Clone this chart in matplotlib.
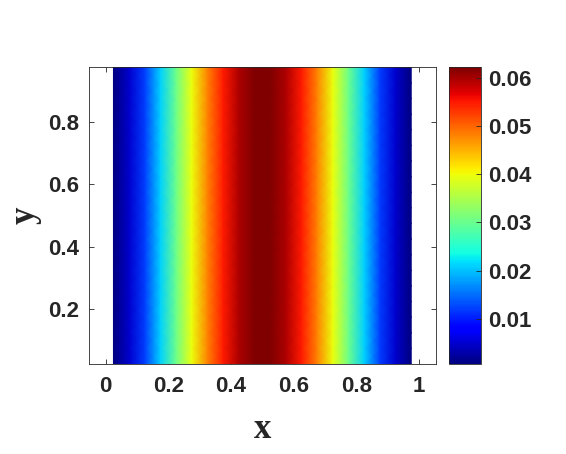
import numpy as np
import matplotlib
matplotlib.use("Agg")
import matplotlib.pyplot as plt

# grid nodes (cell centres)
x_nodes = [0.025, 0.075, 0.125, 0.175, 0.225, 0.275, 0.325, 0.375, 0.425, 0.475,
           0.525, 0.575, 0.625, 0.675, 0.725, 0.775, 0.825, 0.875, 0.925, 0.975]
y_nodes = [0.025, 0.075, 0.125, 0.175, 0.225, 0.275, 0.325, 0.375, 0.425, 0.475,
           0.525, 0.575, 0.625, 0.675, 0.725, 0.775, 0.825, 0.875, 0.925, 0.975]
# field value along x (same for every y)
u_profile = [0.00059, 0.00481, 0.01196, 0.02084, 0.03041, 0.03975, 0.04813, 0.05493,
             0.05972, 0.06219, 0.06219, 0.05972, 0.05493, 0.04813, 0.03975, 0.03041,
             0.02084, 0.01196, 0.00481, 0.00059]

x_ticks = [0, 0.2, 0.4, 0.6, 0.8, 1]
y_ticks = [0.2, 0.4, 0.6, 0.8]
cb_ticks = [0.01, 0.02, 0.03, 0.04, 0.05, 0.06]

X, Y = np.meshgrid(x_nodes, y_nodes)
Z = np.tile(np.array(u_profile), (len(y_nodes), 1))

W, H = 566, 454
fig = plt.figure(figsize=(W / 100, H / 100), dpi=100)
ax = fig.add_axes([89 / W, 1 - 364 / H, (435.7 - 89) / W, (364 - 67.3) / H])
cax = fig.add_axes([448.5 / W, 1 - 364 / H, (481 - 448.5) / W, (364 - 67.3) / H])

mesh = ax.pcolormesh(X, Y, Z, shading="gouraud", cmap="jet",
                     vmin=min(u_profile), vmax=max(u_profile))
ax.set_axisbelow(True)
ax.set_xlim(-0.053, 1.053)
ax.set_ylim(0.025, 0.975)

tc = "#262626"
tick_font = dict(family="Liberation Sans", weight="bold", size=16)
ax.set_xticks(x_ticks)
ax.set_xticklabels([f"{t:g}" for t in x_ticks], **tick_font, color=tc)
ax.set_yticks(y_ticks)
ax.set_yticklabels([f"{t:g}" for t in y_ticks], **tick_font, color=tc)
ax.tick_params(direction="in", length=3.5, width=0.6, color=tc,
               top=True, right=True)
ax.tick_params(axis="x", pad=9)
ax.tick_params(axis="y", pad=7)
for s in ax.spines.values():
    s.set_color(tc)
    s.set_linewidth(0.6)

ax.set_xlabel("x", family="Liberation Serif", weight="bold", size=25,
              color=tc, labelpad=11)
ax.set_ylabel("y", family="Liberation Serif", weight="bold", size=25,
              color=tc, labelpad=5)

cb = fig.colorbar(mesh, cax=cax)
cb.set_ticks(cb_ticks)
cb.set_ticklabels([f"{t:g}" for t in cb_ticks])
for lab in cax.get_yticklabels():
    lab.set_fontfamily("Liberation Sans")
    lab.set_fontweight("bold")
    lab.set_fontsize(16)
    lab.set_color(tc)
cax.tick_params(direction="in", length=3.5, width=0.6, color=tc, pad=5)
cb.outline.set_edgecolor(tc)
cb.outline.set_linewidth(0.6)

fig.savefig("out.png", dpi=100)
